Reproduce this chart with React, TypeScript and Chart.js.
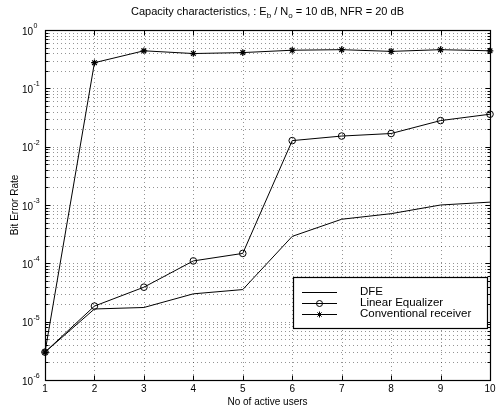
import React, { useEffect, useRef } from "react";
import { Chart, registerables } from "chart.js";

Chart.register(...registerables);

// Number of active users on the x axis
const users = [1, 2, 3, 4, 5, 6, 7, 8, 9, 10];

// Bit error rate for each receiver
const dfe = [3e-6, 1.65e-5, 1.75e-5, 3.0e-5, 3.55e-5, 2.9e-4, 5.7e-4, 7.1e-4, 1.0e-3, 1.12e-3];
const linearEqualizer = [3e-6, 1.85e-5, 3.9e-5, 1.1e-4, 1.48e-4, 1.27e-2, 1.52e-2, 1.68e-2, 2.8e-2, 3.6e-2];
const conventional = [3e-6, 0.275, 0.44, 0.395, 0.41, 0.45, 0.46, 0.43, 0.46, 0.44];

const seriesNames = ["DFE", "Linear Equalizer", "Conventional receiver"];

// Axis ticks: integers on x, decades (as exponents of 10) on y
const xTicks = [1, 2, 3, 4, 5, 6, 7, 8, 9, 10];
const yExponents = [-6, -5, -4, -3, -2, -1, 0];

const titleParts: { text: string; sub?: boolean }[] = [
  { text: "Capacity characteristics, : E" },
  { text: "b", sub: true },
  { text: " / N" },
  { text: "o", sub: true },
  { text: " = 10 dB, NFR = 20 dB" },
];

const FONT = '"Liberation Sans", Arial, Helvetica, sans-serif';

function strokeLine(ctx: CanvasRenderingContext2D, x1: number, y1: number, x2: number, y2: number) {
  ctx.beginPath();
  ctx.moveTo(x1, y1);
  ctx.lineTo(x2, y2);
  ctx.stroke();
}

const matlabAxes = {
  id: "matlabAxes",
  beforeDatasetsDraw(chart: any) {
    const { ctx, chartArea: a, scales } = chart;
    const x = scales.x;
    const y = scales.y;
    ctx.save();
    ctx.strokeStyle = "rgba(0,0,0,0.42)";
    ctx.lineWidth = 1;
    ctx.setLineDash([1, 3]);
    for (const t of xTicks) {
      const px = Math.round(x.getPixelForValue(t)) + 0.5;
      strokeLine(ctx, px, a.top, px, a.bottom);
    }
    for (const e of yExponents) {
      if (e === 0) continue;
      for (let m = 1; m <= 9; m++) {
        const py = Math.round(y.getPixelForValue(m * Math.pow(10, e))) + 0.5;
        strokeLine(ctx, a.left, py, a.right, py);
      }
    }
    ctx.restore();
  },
  afterDatasetsDraw(chart: any) {
    const { ctx, chartArea: a, scales } = chart;
    const x = scales.x;
    const y = scales.y;
    ctx.save();
    ctx.setLineDash([]);
    ctx.strokeStyle = "#000";
    ctx.fillStyle = "#000";
    ctx.lineWidth = 1;

    // tick marks, inward, on all four sides
    const L = Math.round(a.left) + 0.5;
    const R = Math.round(a.right) + 0.5;
    const T = Math.round(a.top) + 0.5;
    const B = Math.round(a.bottom) + 0.5;
    for (const t of xTicks) {
      const px = Math.round(x.getPixelForValue(t)) + 0.5;
      strokeLine(ctx, px, B, px, B - 5);
      strokeLine(ctx, px, T, px, T + 5);
    }
    for (const e of yExponents) {
      for (let m = 1; m <= 9; m++) {
        if (e === 0 && m > 1) break;
        const py = Math.round(y.getPixelForValue(m * Math.pow(10, e))) + 0.5;
        const len = m === 1 ? 5 : 3;
        strokeLine(ctx, L, py, L + len, py);
        strokeLine(ctx, R, py, R - len, py);
      }
    }

    // axes box
    ctx.lineWidth = 1.2;
    ctx.strokeRect(L, T, R - L, B - T);

    // x tick labels
    ctx.font = `10px ${FONT}`;
    ctx.textAlign = "center";
    ctx.textBaseline = "middle";
    for (const t of xTicks) {
      ctx.fillText(String(t), x.getPixelForValue(t), a.bottom + 9);
    }

    // y tick labels: 10 with superscript exponent
    for (const e of yExponents) {
      const py = y.getPixelForValue(Math.pow(10, e));
      const baseRight = a.left - 12;
      ctx.font = `10px ${FONT}`;
      ctx.textAlign = "right";
      ctx.textBaseline = "middle";
      ctx.fillText("10", baseRight, py + 2);
      ctx.font = `7px ${FONT}`;
      ctx.textAlign = "left";
      ctx.fillText(String(e), baseRight + 0.5, py - 4);
    }

    // axis titles
    ctx.font = `10px ${FONT}`;
    ctx.textAlign = "center";
    ctx.textBaseline = "middle";
    ctx.fillText("No of active users", (a.left + a.right) / 2, a.bottom + 22);
    ctx.save();
    ctx.translate(15, (a.top + a.bottom) / 2);
    ctx.rotate(-Math.PI / 2);
    ctx.fillText("Bit Error Rate", 0, 0);
    ctx.restore();

    // title with subscripts
    ctx.textAlign = "left";
    ctx.textBaseline = "middle";
    const big = `11px ${FONT}`;
    const small = `8px ${FONT}`;
    let total = 0;
    for (const p of titleParts) {
      ctx.font = p.sub ? small : big;
      total += ctx.measureText(p.text).width;
    }
    let tx = (a.left + a.right) / 2 - total / 2;
    const ty = 12;
    for (const p of titleParts) {
      ctx.font = p.sub ? small : big;
      ctx.fillText(p.text, tx, p.sub ? ty + 4 : ty);
      tx += ctx.measureText(p.text).width;
    }

    // legend box
    const lx = a.right - 197;
    const ly = a.bottom - 103;
    const lw = 194;
    const lh = 51;
    ctx.fillStyle = "#fff";
    ctx.fillRect(lx, ly, lw, lh);
    ctx.strokeStyle = "#000";
    ctx.lineWidth = 1.2;
    ctx.strokeRect(Math.round(lx) + 0.5, Math.round(ly) + 0.5, lw, lh);
    ctx.lineWidth = 1;
    const rowsY = [ly + 14.5, ly + 25.5, ly + 37];
    chart.data.datasets.forEach((ds: any, i: number) => {
      const ry = Math.round(rowsY[i]) + 0.5;
      strokeLine(ctx, lx + 9, ry, lx + 44, ry);
      const cx = lx + 26.5;
      if (ds.pointStyle === "circle") {
        ctx.beginPath();
        ctx.arc(cx, ry, 3, 0, Math.PI * 2);
        ctx.stroke();
      } else if (ds.pointStyle === "star") {
        const r = 3;
        for (let k = 0; k < 4; k++) {
          const ang = (k * Math.PI) / 4;
          strokeLine(ctx, cx - r * Math.cos(ang), ry - r * Math.sin(ang), cx + r * Math.cos(ang), ry + r * Math.sin(ang));
        }
      }
      ctx.fillStyle = "#000";
      ctx.font = `11.5px ${FONT}`;
      ctx.textAlign = "left";
      ctx.textBaseline = "middle";
      ctx.fillText(ds.label, lx + 67, rowsY[i]);
    });

    ctx.restore();
  },
};

export default function App() {
  const canvasRef = useRef<HTMLCanvasElement | null>(null);

  useEffect(() => {
    document.body.style.margin = "0";
    const canvas = canvasRef.current;
    if (!canvas) return;
    const toPoints = (vals: number[]) => users.map((u, i) => ({ x: u, y: vals[i] }));
    const chart = new Chart(canvas, {
      type: "line",
      data: {
        datasets: [
          {
            label: seriesNames[0],
            data: toPoints(dfe),
            borderColor: "#000",
            borderWidth: 1,
            pointRadius: 0,
            pointStyle: false as any,
            fill: false,
            clip: 10,
          },
          {
            label: seriesNames[1],
            data: toPoints(linearEqualizer),
            borderColor: "#000",
            borderWidth: 1,
            pointStyle: "circle",
            pointRadius: 3.3,
            pointBorderWidth: 1,
            pointBackgroundColor: "rgba(0,0,0,0)",
            pointBorderColor: "#000",
            fill: false,
            clip: 10,
          },
          {
            label: seriesNames[2],
            data: toPoints(conventional),
            borderColor: "#000",
            borderWidth: 1,
            pointStyle: "star",
            pointRadius: 3.3,
            pointBorderWidth: 1.2,
            pointBorderColor: "#000",
            pointBackgroundColor: "#000",
            fill: false,
            clip: 10,
          },
        ],
      },
      options: {
        responsive: false,
        animation: false,
        devicePixelRatio: 1,
        layout: { padding: { left: 45, right: 10, top: 30, bottom: 31 } },
        scales: {
          x: { type: "linear", min: 1, max: 10, display: false },
          y: { type: "logarithmic", min: 1e-6, max: 1, display: false },
        },
        plugins: {
          legend: { display: false },
          title: { display: false },
          tooltip: { enabled: false },
        },
        elements: { line: { tension: 0 } },
      },
      plugins: [matlabAxes],
    });
    return () => chart.destroy();
  }, []);

  return <canvas ref={canvasRef} width={500} height={411} style={{ display: "block" }} />;
}
